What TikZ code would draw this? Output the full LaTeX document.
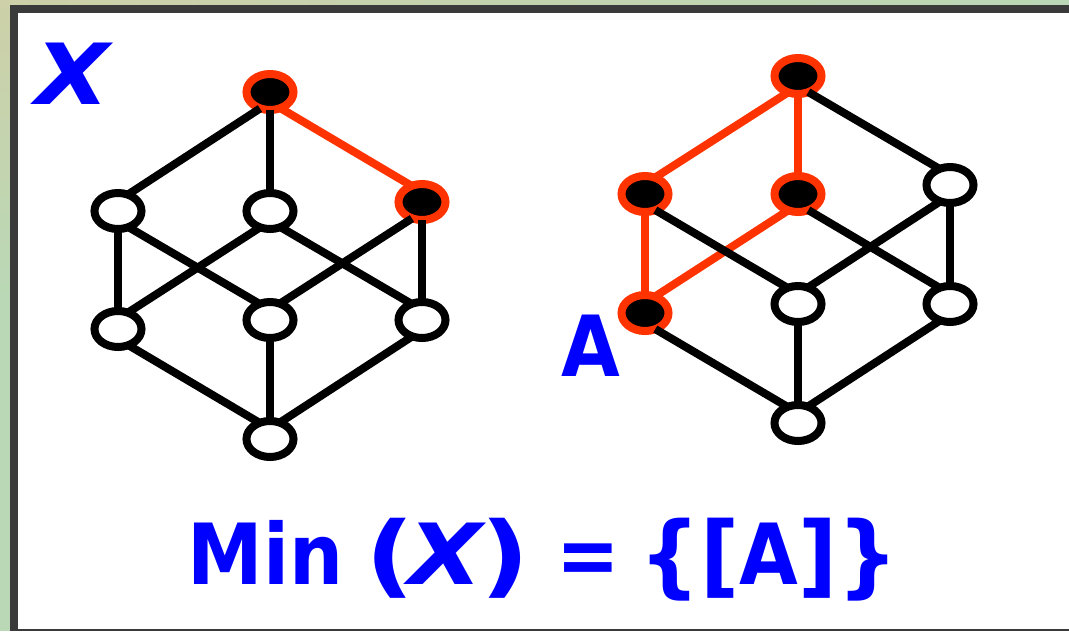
\documentclass[tikz,border=0pt]{standalone}
\usepackage{fontspec}
\setmainfont[FakeStretch=0.9]{DejaVu Sans}
\newfontfamily\setxfont[FakeStretch=1.14]{DejaVu Sans}
\newfontfamily\setpfont[FakeStretch=1.2]{DejaVu Sans}
\newfontfamily\setbfont[FakeStretch=0.95]{DejaVu Sans}
\newcommand{\prn}[1]{{\fontsize{64}{64}\setpfont\bfseries\raisebox{-1.5pt}{#1}}}
\newcommand{\brk}[1]{{\fontsize{64}{64}\setbfont\bfseries\raisebox{-1.5pt}{#1}}}
\usetikzlibrary{positioning,shapes.geometric}
\definecolor{wallgreen}{HTML}{BAD8B6}
\definecolor{wallkhaki}{HTML}{CDD0A8}
\definecolor{frameink} {HTML}{3A3A3A}
\definecolor{setblue}  {HTML}{0000FF}
\definecolor{setred}   {HTML}{FF3300}
\tikzset{
  opendot/.style  ={ellipse, draw=black, fill=white, line width=0.2cm,
                    minimum width=1.175cm, minimum height=0.9cm, inner sep=0pt, outer sep=0pt},
  filldot/.style  ={ellipse, draw=setred, fill=black, line width=0.2cm,
                    minimum width=1.175cm, minimum height=0.9cm, inner sep=0pt, outer sep=0pt},
  blackedge/.style={draw=black, line width=0.2cm},
  rededge/.style  ={draw=setred, line width=0.2cm},
  slantedge/.style={shorten <=0.3cm, shorten >=0.3cm},
  setlabel/.style ={text=setblue, font=\fontsize{60}{60}\selectfont\bfseries, inner sep=0pt},
}
\begin{document}
\begin{tikzpicture}[x=0.025cm,y=-0.025cm]
    \fill[wallgreen] (0,0) rectangle (1069,631);
    \shade[left color=wallkhaki,right color=wallgreen] (0,0) rectangle (1069,5);
    \shade[top color=wallkhaki,bottom color=wallgreen] (0,0) rectangle (10,300);
    \fill[frameink] (10,5) rectangle (1069,631);
    \fill[white] (18,13) rectangle (1069,629);
    \useasboundingbox (0,0) rectangle (1069,631);

    \node[setlabel,anchor=base] (xname) at (73,104) {\setxfont\bfseries\itshape X};
    \node[setlabel,anchor=base] (aname) at (591,376) {A};
    \node[setlabel,anchor=base] (minline) at (543,584)
      {Min \kern-0.047em\prn{(}\kern-0.08em{\setxfont\bfseries\itshape X}\kern-0.02em\prn{)} = \kern-0.083em\brk{\{[}A\brk{]\}}};

    \node[filldot] (lt)  at (270,92)  {};
    \node[opendot] (l1)  at (118,211) {};
    \node[opendot] (l2)  at (270,211) {};
    \node[filldot] (l3)  at (422,202) {};
    \node[opendot] (l4)  at (118,329) {};
    \node[opendot] (l5)  at (270,320) {};
    \node[opendot] (l6)  at (422,320) {};
    \node[opendot] (lb)  at (270,439) {};

    \draw[blackedge,slantedge] ([yshift=-2.5mm]lt.center) -- ([yshift=2.5mm]l1.center);
    \draw[blackedge] (lt) -- (l2);
    \draw[rededge,slantedge] ([yshift=-2.5mm]lt.center) -- ([yshift=2.5mm]l3.center);
    \draw[blackedge] (l1) -- (l4);
    \draw[blackedge,slantedge] ([yshift=-2.5mm]l1.center) -- ([yshift=2.5mm]l5.center);
    \draw[blackedge,slantedge] ([yshift=-2.5mm]l2.center) -- ([yshift=2.5mm]l4.center);
    \draw[blackedge,slantedge] ([yshift=-2.5mm]l2.center) -- ([yshift=2.5mm]l6.center);
    \draw[blackedge,slantedge] ([yshift=-2.5mm]l3.center) -- ([yshift=2.5mm]l5.center);
    \draw[blackedge] (l3) -- (l6);
    \draw[blackedge,slantedge] ([yshift=-2.5mm]l4.center) -- ([yshift=2.5mm]lb.center);
    \draw[blackedge] (l5) -- (lb);
    \draw[blackedge,slantedge] ([yshift=-2.5mm]l6.center) -- ([yshift=2.5mm]lb.center);

    \node[filldot] (rt)  at (798,76)  {};
    \node[filldot] (r1)  at (645,194) {};
    \node[filldot] (r2)  at (798,194) {};
    \node[opendot] (r3)  at (950,185) {};
    \node[filldot] (r4)  at (645,313) {};
    \node[opendot] (r5)  at (798,304) {};
    \node[opendot] (r6)  at (950,304) {};
    \node[opendot] (rb)  at (798,423) {};

    \draw[rededge,slantedge] ([yshift=-2.5mm]rt.center) -- ([yshift=2.5mm]r1.center);
    \draw[rededge]   (rt) -- (r2);
    \draw[rededge]   (r1) -- (r4);
    \draw[rededge,slantedge] ([yshift=-2.5mm]r2.center) -- ([yshift=2.5mm]r4.center);
    \draw[blackedge,slantedge] ([yshift=-2.5mm]rt.center) -- ([yshift=2.5mm]r3.center);
    \draw[blackedge,slantedge] ([yshift=-2.5mm]r1.center) -- ([yshift=2.5mm]r5.center);
    \draw[blackedge,slantedge] ([yshift=-2.5mm]r2.center) -- ([yshift=2.5mm]r6.center);
    \draw[blackedge,slantedge] ([yshift=-2.5mm]r3.center) -- ([yshift=2.5mm]r5.center);
    \draw[blackedge] (r3) -- (r6);
    \draw[blackedge,slantedge] ([yshift=-2.5mm]r4.center) -- ([yshift=2.5mm]rb.center);
    \draw[blackedge] (r5) -- (rb);
    \draw[blackedge,slantedge] ([yshift=-2.5mm]r6.center) -- ([yshift=2.5mm]rb.center);
\end{tikzpicture}
\end{document}
